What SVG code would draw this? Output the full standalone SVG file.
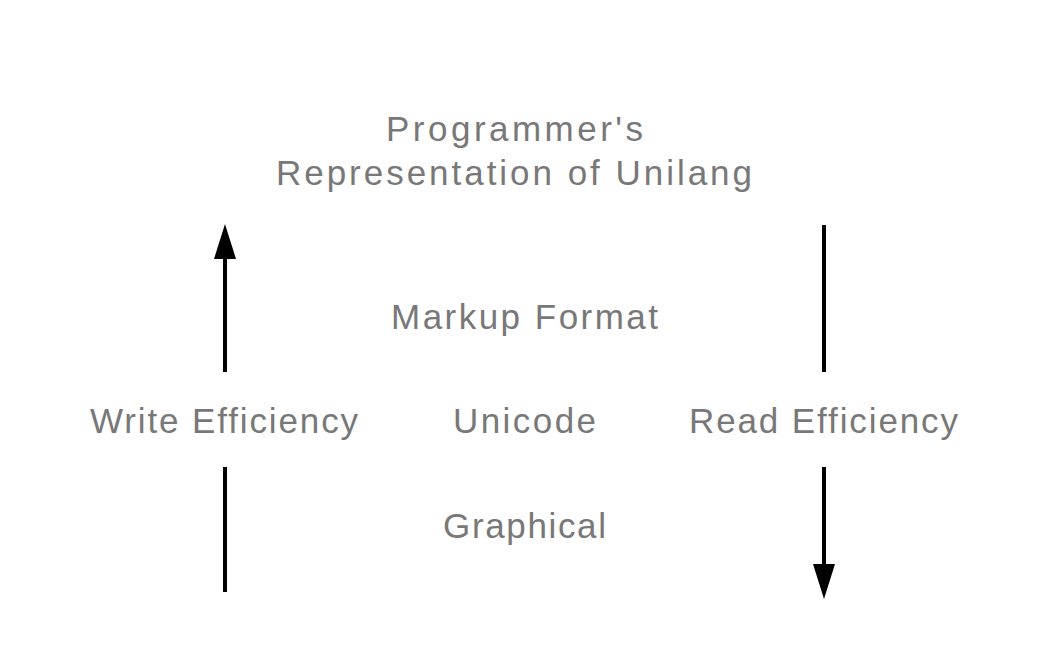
<svg xmlns="http://www.w3.org/2000/svg" width="1050" height="669" viewBox="0 0 1050 669">
<style>
text{font-family:"Liberation Sans",Arial,sans-serif;font-size:35px;fill:#787878;text-anchor:middle}
.c{stroke:#000;stroke-width:4;fill:none}
.h{fill:#000}
</style>
<rect width="1050" height="669" fill="#fff"/>
<g id="title"><text x="514.5" y="141" textLength="257" lengthAdjust="spacing">Programmer's</text><text x="514" y="185" textLength="476" lengthAdjust="spacing">Representation of Unilang</text></g>
<g id="markup"><text x="524.5" y="329" textLength="267" lengthAdjust="spacing">Markup Format</text></g>
<g id="unicode"><text x="524.5" y="433" textLength="143" lengthAdjust="spacing">Unicode</text></g>
<g id="graphical"><text x="524.5" y="538" textLength="163" lengthAdjust="spacing">Graphical</text></g>
<g id="write"><text x="224" y="433" textLength="268" lengthAdjust="spacing">Write Efficiency</text></g>
<g id="read"><text x="823.5" y="433" textLength="269" lengthAdjust="spacing">Read Efficiency</text></g>
<g id="connectors">
<line class="c" x1="225" y1="372" x2="225" y2="255"/>
<polygon class="h" points="225,224 214,259 236,259"/>
<line class="c" x1="225" y1="467" x2="225" y2="592"/>
<line class="c" x1="824" y1="225" x2="824" y2="372"/>
<line class="c" x1="824" y1="467" x2="824" y2="568"/>
<polygon class="h" points="824,599 813,564 835,564"/>
</g>
</svg>
